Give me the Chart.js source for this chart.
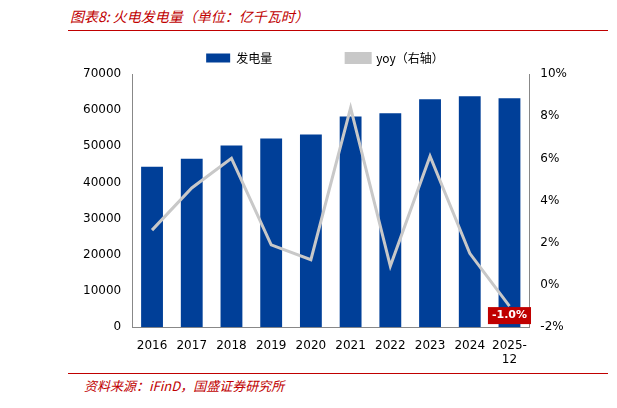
<!DOCTYPE html>
<html>
<head>
<meta charset="utf-8">
<script src="https://cdn.jsdelivr.net/npm/chart.js"></script>
<style>
    body { margin: 0; background: #fff; font-family: "Noto Sans CJK SC", sans-serif; }
    .wrap { position: relative; width: 617px; height: 408px; }
    .title { position: absolute; left: 70px; top: 6px; color: #c00000; font-style: italic; font-size: 14px; }
    .topline { position: absolute; left: 68px; top: 30px; width: 540px; height: 1px; background: #c00000; }
    .botline { position: absolute; left: 68px; top: 373px; width: 540px; height: 1px; background: #c00000; }
    .source { position: absolute; left: 84px; top: 376px; color: #c00000; font-style: italic; font-size: 13px; }
    .chart { position: absolute; left: 80px; top: 50px; width: 490px; height: 320px; }
</style>
</head>
<body>
<div class="wrap">
    <div class="title">图表8:  火电发电量（单位：亿千瓦时）</div>
    <div class="topline"></div>
    <div class="chart"><canvas id="c"></canvas></div>
    <div class="botline"></div>
    <div class="source">资料来源：iFinD，国盛证券研究所</div>
</div>
<script>
    const labels = ['2016', '2017', '2018', '2019', '2020', '2021', '2022', '2023', '2024', ['2025-', '12']];
    const generation = [44340, 46570, 50200, 52150, 53260, 58280, 59120, 63020, 63860, 63300];
    const yoy = [2.6, 4.6, 6.0, 1.9, 1.2, 8.4, 0.9, 6.1, 1.5, -1.0];

    // red label on the last yoy point
    const lastLabel = {
        id: 'lastLabel',
        afterDatasetsDraw(chart) {
            const pt = chart.getDatasetMeta(1).data[yoy.length - 1];
            const ctx = chart.ctx;
            const text = yoy[yoy.length - 1].toFixed(1) + '%';
            ctx.save();
            ctx.font = 'bold 11px "DejaVu Sans"';
            const w = ctx.measureText(text).width + 8;
            ctx.fillStyle = '#c00000';
            ctx.fillRect(pt.x - w / 2, pt.y + 1, w, 17);
            ctx.fillStyle = '#fff';
            ctx.textAlign = 'center';
            ctx.textBaseline = 'middle';
            ctx.fillText(text, pt.x, pt.y + 9.5);
            ctx.restore();
        }
    };

    new Chart(document.getElementById('c'), {
        data: {
            labels: labels,
            datasets: [
                { type: 'bar', label: '发电量', data: generation, backgroundColor: '#003f98', yAxisID: 'y', barPercentage: 0.55, categoryPercentage: 1, order: 2 },
                { type: 'line', label: 'yoy（右轴）', data: yoy, borderColor: '#c8c8c8', borderWidth: 3, pointRadius: 0, tension: 0, yAxisID: 'y1', order: 1 }
            ]
        },
        options: {
            responsive: true,
            maintainAspectRatio: false,
            animation: false,
            plugins: {
                legend: {
                    labels: {
                        boxWidth: 24, boxHeight: 9, color: '#000',
                        font: { family: '"Noto Sans CJK SC"', size: 12 },
                        padding: 2,
                        generateLabels(chart) {
                            return chart.data.datasets.map((d, i) => ({
                                text: d.label + (i === 0 ? '\u3000\u3000\u3000\u3000\u3000\u3000' : ''), datasetIndex: i,
                                fillStyle: i === 0 ? '#003f98' : '#c8c8c8',
                                strokeStyle: i === 0 ? '#003f98' : '#c8c8c8',
                                lineWidth: i === 0 ? 0 : 3
                            }));
                        }
                    }
                },
                tooltip: { enabled: false }
            },
            scales: {
                x: {
                    grid: { display: false },
                    border: { color: '#888' },
                    ticks: { color: '#000', font: { family: '"DejaVu Sans"', size: 12 }, maxRotation: 0 }
                },
                y: {
                    position: 'left', min: 0, max: 70000,
                    grid: { display: false },
                    border: { color: '#888' },
                    ticks: { stepSize: 10000, color: '#000', font: { family: '"DejaVu Sans"', size: 12 }, callback: v => String(v) }
                },
                y1: {
                    position: 'right', min: -2, max: 10,
                    grid: { display: false },
                    border: { color: '#888' },
                    ticks: { stepSize: 2, color: '#000', font: { family: '"DejaVu Sans"', size: 12 }, callback: v => v + '%' }
                }
            }
        },
        plugins: [lastLabel]
    });
</script>
</body>
</html>
